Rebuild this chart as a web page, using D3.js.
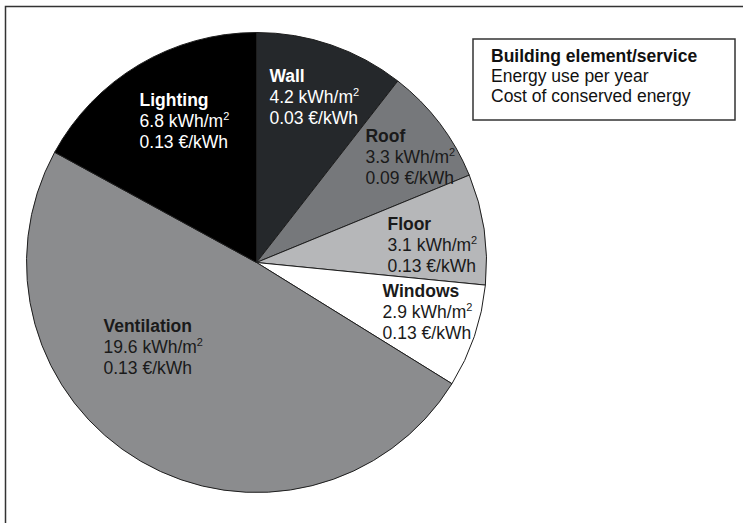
<!DOCTYPE html>
<html>
<head>
<meta charset="utf-8">
<script src="https://cdn.jsdelivr.net/npm/d3@7"></script>
<style>
  body { margin: 0; background: #fff; }
  svg { display: block; font-family: "Liberation Sans", Arial, sans-serif; }
</style>
</head>
<body>
<div id="chart"></div>
<script>
// building elements, clockwise from 12 o'clock
const elements = ['Wall', 'Roof', 'Floor', 'Windows', 'Ventilation', 'Lighting'];
const energyUse = [4.2, 3.3, 3.1, 2.9, 19.6, 6.8];          // kWh/m2 per year
const costs = ['0.03', '0.09', '0.13', '0.13', '0.13', '0.13']; // €/kWh
const legendLines = ['Building element/service', 'Energy use per year', 'Cost of conserved energy'];

const fills = ['#25282b', '#76787b', '#b6b7b9', '#ffffff', '#8b8c8e', '#000000'];
const textColors = ['#fff', '#1a1a1a', '#1a1a1a', '#1a1a1a', '#1a1a1a', '#fff'];
// where each label starts: [angle in degrees from 12 o'clock, fraction of radius]
const labelSpots = [[4.1, 0.785], [42.0, 0.708], [75.9, 0.587], [105.5, 0.569], [245.7, 0.73], [323.3, 0.851]];

const width = 743, height = 523;
const cx = 256.5, cy = 262.5, radius = 230;
const fontSize = 17.5, lineGap = 21;

const svg = d3.select('#chart').append('svg')
  .attr('width', width)
  .attr('height', height);

// frame (only top and left edges show)
svg.append('path')
  .attr('d', `M5.5,${height}V6.5H${width}`)
  .attr('fill', 'none')
  .attr('stroke', '#333')
  .attr('stroke-width', 1.5);

const data = elements.map((name, i) => ({ name, value: energyUse[i], cost: costs[i], i }));

const pie = d3.pie().value(d => d.value).sort(null);
const arc = d3.arc().innerRadius(0).outerRadius(radius);

const g = svg.append('g').attr('transform', `translate(${cx},${cy})`);

g.selectAll('path.slice')
  .data(pie(data))
  .join('path')
  .attr('class', 'slice')
  .attr('d', arc)
  .attr('fill', d => fills[d.data.i])
  .attr('stroke', '#1e1e1e')
  .attr('stroke-width', 1);

const labels = g.selectAll('text.label')
  .data(data)
  .join('text')
  .attr('class', 'label')
  .attr('font-size', fontSize)
  .attr('fill', d => textColors[d.i])
  .each(function(d) {
    const [deg, frac] = labelSpots[d.i];
    const [x, y] = d3.pointRadial(deg * Math.PI / 180, frac * radius);
    const t = d3.select(this);
    t.append('tspan').attr('x', x).attr('y', y)
      .attr('font-weight', 'bold').text(d.name);
    t.append('tspan').attr('x', x).attr('y', y + lineGap)
      .text(`${d.value} kWh/m`);
    t.append('tspan').attr('dy', -7).attr('font-size', 11).text('2');
    t.append('tspan').attr('x', x).attr('y', y + 2 * lineGap)
      .text(`${d.cost} €/kWh`);
  });

// legend box
const legend = svg.append('g').attr('transform', 'translate(473,39)');
legend.append('rect')
  .attr('width', 262)
  .attr('height', 81)
  .attr('fill', '#fff')
  .attr('stroke', '#333')
  .attr('stroke-width', 1.5);

legend.selectAll('text')
  .data(legendLines)
  .join('text')
  .attr('x', 18)
  .attr('y', (d, i) => 23 + i * 20)
  .attr('font-size', fontSize)
  .attr('font-weight', (d, i) => i === 0 ? 'bold' : 'normal')
  .attr('fill', '#111')
  .text(d => d);
</script>
</body>
</html>
